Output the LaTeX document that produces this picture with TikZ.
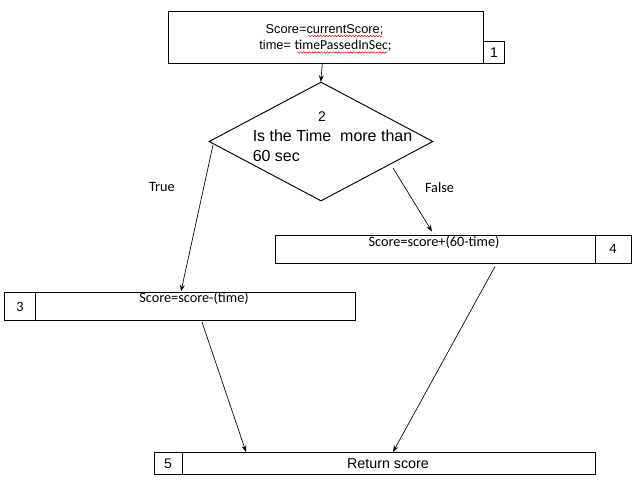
\documentclass[tikz,border=0pt]{standalone}
\usepackage{fontspec}
\setmainfont{Liberation Sans}
\newfontfamily\calfont{Carlito}
\usetikzlibrary{arrows.meta,shapes.geometric,fit,calc,decorations.pathmorphing}
\begin{document}
\begin{tikzpicture}[x=0.75pt,y=-0.75pt,
  boxline/.style={draw=black,line width=0.7pt,inner sep=0pt},
  conn/.style={draw=black,line width=0.5pt,-{Stealth[length=5pt,width=3.6pt]}},
  plain/.style={draw=black,line width=0.5pt},
  arialtxt/.style={inner sep=0pt,font=\fontsize{9.6pt}{11pt}\selectfont},
  caltxt/.style={inner sep=0pt,font=\calfont\fontsize{10.7pt}{12pt}\selectfont},
  bigtxt/.style={inner sep=0pt,font=\fontsize{12pt}{14pt}\selectfont},
  squig/.style={draw=red!85!black,line width=0.35pt,decorate,decoration={snake,amplitude=0.55pt,segment length=2.2pt}}]
\useasboundingbox[fill=white] (0,0) rectangle (642,480);
% top box
\node[boxline,fit={(168,11.7) (483.3,63.3)}] (b1) {};
\node[boxline,fit={(483.3,41.7) (504.5,63.3)}] (l1) {};
\node[arialtxt,font=\fontsize{10.5pt}{12pt}\selectfont] (t1) at (494,52.5) {1};
\node[arialtxt] (t1a) at (324.5,30) {Score=currentScore;};
\node[inner sep=0pt] (t1b) at (325.5,45.5) {\fontsize{9.6pt}{11pt}\selectfont time= {\calfont\fontsize{10.3pt}{11pt}\selectfont timePassedInSec;}};
\draw[squig] (308,36) -- (382,36);
\draw[squig] (297,52.5) -- (387,52.5);
% diamond
\node[draw=black,line width=0.7pt,diamond,inner sep=0pt,minimum width=168pt,minimum height=89.25pt] (d) at (321,141.5) {};
\node[arialtxt,font=\fontsize{10.5pt}{12pt}\selectfont] (t2) at (322,116.5) {2};
\node[bigtxt,anchor=west] (t2a) at (252.5,136) {Is the Time\ \ more than};
\node[bigtxt,anchor=west] (t2b) at (252.5,155.5) {60 sec};
% box 4
\node[boxline,fit={(275.5,235) (595.5,263.3)}] (b4) {};
\node[boxline,fit={(595.5,235) (631,263.3)}] (l4) {};
\node[caltxt] (t4) at (434,242) {Score=score+(60-time)};
\node[caltxt] (n4) at (613,249) {4};
% box 3
\node[boxline,fit={(4.5,292.3) (35,320.3)}] (l3) {};
\node[boxline,fit={(35,292.3) (355,320.3)}] (b3) {};
\node[caltxt] (t3) at (194,298.5) {Score=score-(time)};
\node[caltxt] (n3) at (20,306.5) {3};
% box 5
\node[boxline,fit={(154.5,452.3) (182.7,474.3)}] (l5) {};
\node[boxline,fit={(182.7,452.3) (595,474.3)}] (b5) {};
\node[arialtxt,font=\fontsize{10.7pt}{12pt}\selectfont] (t5) at (388,463.5) {Return score};
\node[arialtxt,font=\fontsize{10.5pt}{12pt}\selectfont] (n5) at (168,463.5) {5};
% labels
\node[caltxt] (lt) at (162,187) {True};
\node[caltxt] (lf) at (439.5,187.5) {False};
% connector ends
\coordinate (s1) at (322.3,63.5);
\coordinate (e1) at (320.8,82);
\coordinate (sT) at (213,145);
\coordinate (eT) at (181,291.5);
\coordinate (sF) at (393,168);
\coordinate (eF) at (432,231.5);
\coordinate (s3) at (202,322);
\coordinate (e3) at (246,452);
\coordinate (s4) at (495,266.5);
\coordinate (e4) at (393,452);
\draw[conn] (s1) -- (e1);
\draw[conn] (sT) -- (eT);
\draw[conn] (sF) -- (eF);
\draw[conn] (s3) -- (e3);
\draw[conn] (s4) -- (e4);
\end{tikzpicture}
\end{document}
